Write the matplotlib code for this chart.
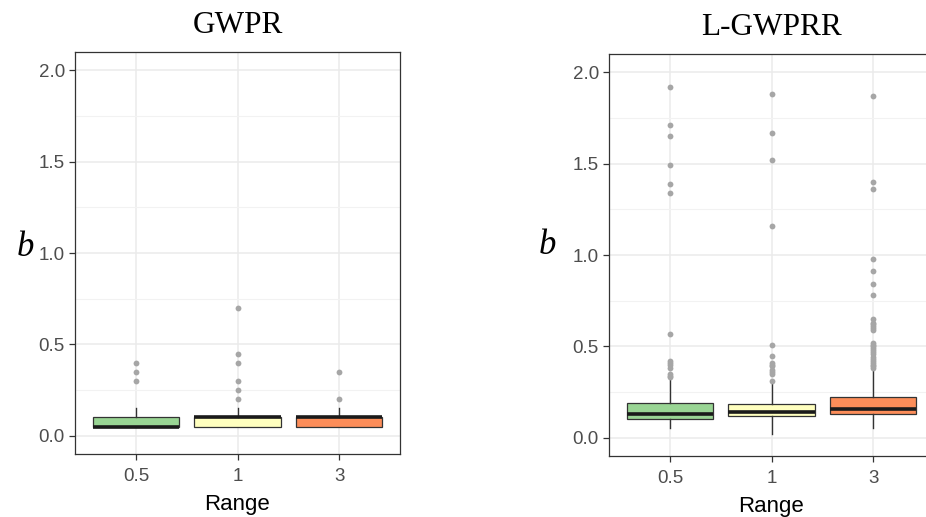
import matplotlib
matplotlib.use("Agg")
import matplotlib.pyplot as plt
from matplotlib.ticker import MultipleLocator

# Categories and box colours
categories = ["0.5", "1", "3"]
box_colors = ["#99d594", "#ffffbf", "#fc8d59"]
panel_titles = ["GWPR", "L-GWPRR"]

# GWPR summary statistics per range
gwpr_q1 = [0.05, 0.05, 0.05]
gwpr_med = [0.05, 0.10, 0.10]
gwpr_q3 = [0.10, 0.10, 0.10]
gwpr_whislo = [0.05, 0.05, 0.05]
gwpr_whishi = [0.15, 0.15, 0.15]
gwpr_fliers = [
    [0.30, 0.35, 0.40],
    [0.20, 0.25, 0.30, 0.40, 0.45, 0.70],
    [0.20, 0.35],
]

# L-GWPRR summary statistics per range
lgwprr_q1 = [0.102, 0.117, 0.130]
lgwprr_med = [0.128, 0.140, 0.159]
lgwprr_q3 = [0.190, 0.187, 0.225]
lgwprr_whislo = [0.055, 0.022, 0.053]
lgwprr_whishi = [0.325, 0.300, 0.368]
lgwprr_fliers = [
    [0.33, 0.34, 0.35, 0.38, 0.40, 0.41, 0.42, 0.57, 1.34, 1.39, 1.49, 1.65, 1.71, 1.92],
    [0.31, 0.35, 0.36, 0.37, 0.39, 0.40, 0.41, 0.45, 0.51, 1.16, 1.52, 1.67, 1.88],
    [0.38, 0.39, 0.40, 0.41, 0.42, 0.43, 0.44, 0.46, 0.47, 0.48, 0.49, 0.50, 0.51, 0.52,
     0.59, 0.60, 0.61, 0.62, 0.63, 0.65, 0.78, 0.84, 0.91, 0.98, 1.36, 1.40, 1.87],
]

y_ticks = [0.0, 0.5, 1.0, 1.5, 2.0]


def make_stats(q1, med, q3, lo, hi, fl):
    return [dict(q1=a, med=b, q3=c, whislo=d, whishi=e, fliers=f, label=lab)
            for a, b, c, d, e, f, lab in zip(q1, med, q3, lo, hi, fl, categories)]


stats = [
    make_stats(gwpr_q1, gwpr_med, gwpr_q3, gwpr_whislo, gwpr_whishi, gwpr_fliers),
    make_stats(lgwprr_q1, lgwprr_med, lgwprr_q3, lgwprr_whislo, lgwprr_whishi, lgwprr_fliers),
]

fig = plt.figure(figsize=(9.26, 5.17), dpi=100)
W, H = 926, 517
rects = [
    (75 / W, (H - 454) / H, 325 / W, 402 / H),
    (609 / W, (H - 456) / H, 325 / W, 402 / H),
]
b_label_pos = [(25 / W, (H - 247) / H), (547 / W, (H - 245) / H)]

edge = "#333333"
for i, (rect, st, title) in enumerate(zip(rects, stats, panel_titles)):
    ax = fig.add_axes(rect)
    ax.set_facecolor("white")
    positions = list(range(1, len(categories) + 1))
    parts = ax.bxp(
        st, positions=positions, widths=0.85, patch_artist=True,
        showfliers=True, showcaps=False,
        boxprops=dict(edgecolor=edge, linewidth=0.9),
        medianprops=dict(color="#1a1a1a", linewidth=2.6, solid_capstyle="butt"),
        whiskerprops=dict(color=edge, linewidth=1.0),
        flierprops=dict(marker="o", markersize=4.2, markerfacecolor="#a6a6a6",
                        markeredgecolor="none", linestyle="none"),
        zorder=3,
    )
    for patch, c in zip(parts["boxes"], box_colors):
        patch.set_facecolor(c)
    ax.set_xlim(0.4, len(categories) + 0.6)
    ax.set_ylim(-0.1, 2.1)
    ax.set_yticks(y_ticks)
    ax.set_yticklabels([f"{v:.1f}" for v in y_ticks])
    ax.yaxis.set_minor_locator(MultipleLocator(0.25))
    ax.set_xticks(positions)
    ax.set_xticklabels(categories)
    ax.grid(which="major", color="#ebebeb", linewidth=1.1, zorder=0)
    ax.grid(which="minor", axis="y", color="#f2f2f2", linewidth=0.8, zorder=0)
    ax.set_axisbelow(True)
    ax.tick_params(axis="both", which="major", length=4.3, width=0.9, color=edge,
                   labelcolor="#4d4d4d", labelsize=13.5)
    ax.tick_params(axis="x", which="major", pad=5.5)
    ax.tick_params(axis="y", which="major", pad=3)
    ax.tick_params(axis="y", which="minor", length=0)
    for lab in ax.get_xticklabels() + ax.get_yticklabels():
        lab.set_fontfamily("Liberation Sans")
    for sp in ax.spines.values():
        sp.set_color(edge)
        sp.set_linewidth(0.9)
    ax.set_xlabel("Range", fontsize=16, family="Liberation Sans", color="black", labelpad=7)
    ax.set_title(title, fontsize=22.5, family="Liberation Serif", color="black", pad=14)
    fig.text(b_label_pos[i][0], b_label_pos[i][1], "b", fontsize=25,
             family="Liberation Serif", style="italic", ha="center", va="center")

fig.savefig("out.png", dpi=100, facecolor="white")
